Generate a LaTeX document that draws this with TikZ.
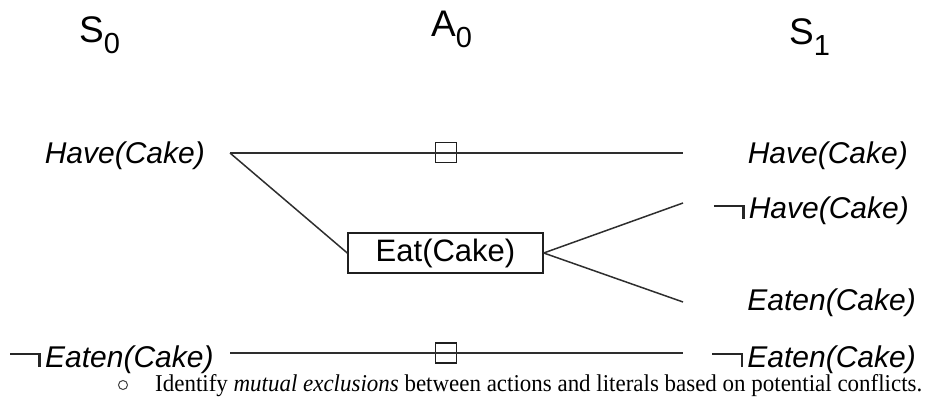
\documentclass[tikz,border=0pt]{standalone}
\usepackage{fontspec}
\setmainfont{Liberation Sans}
\newfontfamily\bodyserif{Liberation Serif}
\begin{document}
\begin{tikzpicture}[x=1pt,y=-1pt,
  lit/.style={inner sep=0pt, font=\fontsize{30}{34}\selectfont\itshape},
  lvl/.style={inner sep=0pt, font=\fontsize{37}{40}\selectfont},
  link/.style={draw=black!82, line width=1.5pt},
  noop/.style={draw=black!88, line width=1.4pt, minimum width=21pt, minimum height=20pt, inner sep=0pt},
  actbox/.style={draw=black!88, line width=1.4pt, minimum width=195pt, minimum height=40pt, inner sep=0pt, fill=white, font=\fontsize{31}{34}\selectfont},
  bulletmark/.style={circle, draw=black!75, line width=1pt, minimum size=9pt, inner sep=0pt}
]
% negation sign: long bar with a hook down to the baseline
\newcommand{\negsym}{{\color{black!85}\rule[12pt]{31pt}{2.4pt}\kern-2.8pt\rule{2.8pt}{14.4pt}}\kern4pt}
\newcommand{\lvlsub}[1]{\raisebox{-0.28em}{\fontsize{29}{30}\selectfont #1}}
\useasboundingbox (0,0) rectangle (927,398);

% level headings
\node[lvl, anchor=base west] (s0) at (79,43) {S\lvlsub{0}};
\node[lvl, anchor=base west] (a0) at (431,37) {A\lvlsub{0}};
\node[lvl, anchor=base west] (s1) at (789,45) {S\lvlsub{1}};

% literals of S0
\node[lit, anchor=base east] (hc0) at (205,164) {Have(Cake)};
\node[lit, anchor=base west] (ne0) at (10,367) {\negsym Eaten(Cake)};

% literals of S1
\node[lit, anchor=base east] (hc1) at (908,164) {Have(Cake)};
\node[lit, anchor=base east] (nh1) at (909,219) {\negsym Have(Cake)};
\node[lit, anchor=base east] (ea1) at (916,311) {Eaten(Cake)};
\node[lit, anchor=base east] (ne1) at (916,367) {\negsym Eaten(Cake)};

% connector ends beside the literals
\coordinate (hc0r) at (230,153);
\coordinate (ne0r) at (230,353);
\coordinate (hc1l) at (683,153);
\coordinate (nh1l) at (683,203);
\coordinate (ea1l) at (683,302);
\coordinate (ne1l) at (683,353);

% actions: Eat(Cake) and the two persistence no-ops
\node[actbox] (eat) at (445.5,253) {Eat(Cake)};
\node[noop] (p1) at (446,152.5) {};
\node[noop] (p2) at (446,353) {};

% links
\draw[link] (hc0r) -- (hc1l);
\draw[link] (ne0r) -- (ne1l);
\draw[link] (hc0r) -- (eat.west);
\draw[link] (eat.east) -- (nh1l);
\draw[link] (eat.east) -- (ea1l);

% caption line
\node[bulletmark] (bul) at (123,385) {};
\node[inner sep=0pt, anchor=base west, font=\bodyserif\fontsize{23}{26}\selectfont] (cap) at (155,391)
  {\resizebox{767pt}{17pt}{Identify \textit{mutual exclusions} between actions and literals based on potential conflicts.}};
\end{tikzpicture}
\end{document}
